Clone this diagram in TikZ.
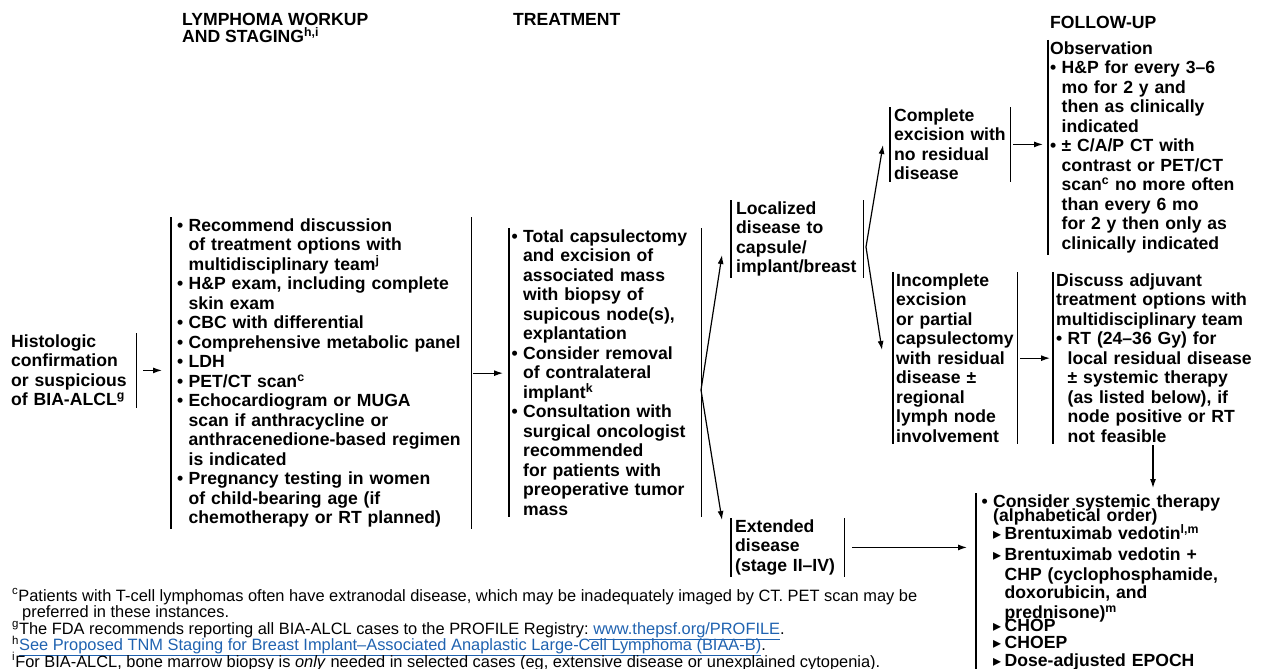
\documentclass[tikz,border=0pt]{standalone}
\usepackage{fontspec}
\setmainfont{Liberation Sans}
\newfontfamily\symfont{DejaVu Sans}
\usepackage{tikz}
\usetikzlibrary{arrows.meta}
\definecolor{linkblue}{RGB}{31,98,176}
\newcommand{\bodyfont}{\fontsize{17.6}{19.5}\selectfont\bfseries\lineskiplimit=-10pt}
\newcommand{\notefont}{\fontsize{16.4}{16.5}\selectfont\lineskiplimit=-10pt}
\newcommand{\bul}{\makebox[11.5pt][l]{•}}
\newcommand{\ind}{\hspace*{11.5pt}}
\newcommand{\tri}{\makebox[11.5pt][l]{\symfont\fontsize{16}{16}\selectfont ▸}}
\tikzstyle{txt} = [anchor=north west, align=left, font=\bodyfont, inner ysep=1.5pt]
\tikzstyle{head} = [anchor=north west, align=left, inner sep=0pt, font=\fontsize{17.6}{17.7}\selectfont\bfseries]
\tikzstyle{bar} = [draw, line width=1.2pt]
\tikzstyle{line} = [draw, line width=1.2pt, -{Latex[length=9pt,width=6pt]}]

\begin{document}
\begin{tikzpicture}[x=1pt,y=-1pt]
    \useasboundingbox (0,0) rectangle (1261,669);

    % headings
    \node[head] (hwork) at (182,12.7) {LYMPHOMA WORKUP\\AND STAGING\textsuperscript{h,i}};
    \node[head] (htreat) at (513,12.7) {TREATMENT};
    \node[head] (hfollow) at (1050,16.2) {FOLLOW-UP};

    \node[txt, inner xsep=3pt, text width=122pt] (hist) at (8,333)
        {Histologic\\confirmation\\or suspicious\\of BIA-ALCL\textsuperscript{g}};

    \node[txt, inner xsep=6pt, text width=288pt] (wk) at (171,217)
        {\bul Recommend discussion\\
         \ind of treatment options with\\
         \ind multidisciplinary team\textsuperscript{j}\\
         \bul H\&P exam, including complete\\
         \ind skin exam\\
         \bul CBC with differential\\
         \bul Comprehensive metabolic panel\\
         \bul LDH\\
         \bul PET/CT scan\textsuperscript{c}\\
         \bul Echocardiogram or MUGA\\
         \ind scan if anthracycline or\\
         \ind anthracenedione-based regimen\\
         \ind is indicated\\
         \bul Pregnancy testing in women\\
         \ind of child-bearing age (if\\
         \ind chemotherapy or RT planned)};

    \node[txt, inner xsep=2.5pt, text width=187pt] (tr) at (509,228)
        {\bul Total capsulectomy\\
         \ind and excision of\\
         \ind associated mass\\
         \ind with biopsy of\\
         \ind supicous node(s),\\
         \ind explantation\\
         \bul Consider removal\\
         \ind of contralateral\\
         \ind implant\textsuperscript{k}\\
         \bul Consultation with\\
         \ind surgical oncologist\\
         \ind recommended\\
         \ind for patients with\\
         \ind preoperative tumor\\
         \ind mass};

    \node[txt, inner xsep=5pt, text width=122pt] (loc) at (731,200)
        {Localized\\disease to\\capsule/\\implant/breast};
    \node[txt, inner xsep=4pt, text width=105pt] (ext) at (731,518)
        {Extended\\disease\\(stage II–IV)};

    \node[txt, inner xsep=4pt, text width=112pt] (comp) at (890,107)
        {Complete\\excision with\\no residual\\disease};
    \node[txt, inner xsep=3pt, text width=117.7pt] (inc) at (893,272)
        {Incomplete\\excision\\or partial\\capsulectomy\\with residual\\disease ±\\regional\\lymph node\\involvement};

    \node[txt, inner xsep=2pt, text width=205pt] (obs) at (1048,40)
        {Observation\\
         \bul H\&P for every 3–6\\
         \ind mo for 2 y and\\
         \ind then as clinically\\
         \ind indicated\\
         \bul ± C/A/P CT with\\
         \ind contrast or PET/CT\\
         \ind scan\textsuperscript{c} no more often\\
         \ind than every 6 mo\\
         \ind for 2 y then only as\\
         \ind clinically indicated};
    \node[txt, inner xsep=3pt, text width=215pt] (adj) at (1053,272)
        {Discuss adjuvant\\
         treatment options with\\
         multidisciplinary team\\
         \bul RT (24–36 Gy) for\\
         \ind local residual disease\\
         \ind ± systemic therapy\\
         \ind (as listed below), if\\
         \ind node positive or RT\\
         \ind not feasible};
    \node[txt, inner xsep=5.5pt, text width=270pt] (sys) at (976,493)
        {\bul Consider systemic therapy\\[-5.5pt]
         \ind (alphabetical order)\\[-1pt]
         \ind\tri Brentuximab vedotin\textsuperscript{l,m}\\[1pt]
         \ind\tri Brentuximab vedotin +\\[0.5pt]
         \ind\ind CHP (cyclophosphamide,\\[-1pt]
         \ind\ind doxorubicin, and\\
         \ind\ind prednisone)\textsuperscript{m}\\[-6pt]
         \ind\tri CHOP\\[-3pt]
         \ind\tri CHOEP\\[-1pt]
         \ind\tri Dose-adjusted EPOCH};

    % bars
    \draw[bar] (hist.north east) -- (hist.south east);
    \draw[bar] (wk.north west) -- (wk.south west);
    \draw[bar] (wk.north east) -- (wk.south east);
    \draw[bar] (tr.north west) -- (tr.south west);
    \draw[bar] (tr.north east) -- (tr.south east);
    \draw[bar] (loc.north west) -- (loc.south west);
    \draw[bar] (loc.north east) -- (loc.south east);
    \draw[bar] (ext.north west) -- (ext.south west);
    \draw[bar] (ext.north east) -- (ext.south east);
    \draw[bar] (comp.north west) -- (comp.south west);
    \draw[bar] (comp.north east) -- (comp.south east);
    \draw[bar] (inc.north west) -- (inc.south west);
    \draw[bar] (inc.north east) -- (inc.south east);
    \draw[bar] (obs.north west) -- (obs.south west);
    \draw[bar] (adj.north west) -- (adj.south west);
    \draw[bar] (sys.north west) -- (sys.south west);

    % arrows
    \draw[line, shorten <=7pt, shorten >=9pt] (hist.east) -- (hist.east -| wk.west);
    \draw[line, shorten <=2pt, shorten >=6pt] (wk.east) -- (wk.east -| tr.west);

    \coordinate (trfork) at (701,390);
    \coordinate (locin) at (722,255);
    \coordinate (extin) at (722,520);
    \draw[line] (trfork) -- (locin);
    \draw[line] (trfork) -- (extin);

    \coordinate (locfork) at (866,247);
    \coordinate (compin) at (883,145);
    \coordinate (incin) at (882,350);
    \draw[line] (locfork) -- (compin);
    \draw[line] (locfork) -- (incin);

    \draw[line, shorten <=3pt, shorten >=5pt] (comp.east) -- (comp.east -| obs.west);
    \draw[line, shorten <=3pt, shorten >=3pt] (inc.east) -- (inc.east -| adj.west);
    \coordinate (adjout) at (1153,445);
    \draw[line, shorten >=5pt] (adjout) -- (adjout |- sys.north);
    \draw[line, shorten <=8pt, shorten >=9pt] (ext.east) -- (ext.east -| sys.west);

    % footnotes
    \node[anchor=north west, align=left, inner sep=0pt, font=\notefont] (notes) at (12,588.6)
        {\textsuperscript{c}Patients with T-cell lymphomas often have extranodal disease, which may be inadequately imaged by CT. PET scan may be\\
         \hspace*{10pt}preferred in these instances.\\
         \textsuperscript{g}The FDA recommends reporting all BIA-ALCL cases to the PROFILE Registry:{\color{linkblue}\underline{\ www.thepsf.org/PROFILE}}.\\
         \textsuperscript{h}{\color{linkblue}\underline{See Proposed TNM Staging for Breast Implant–Associated Anaplastic Large-Cell Lymphoma (BIAA-B)}}.\\
         \textsuperscript{i}For BIA-ALCL, bone marrow biopsy is \textit{only} needed in selected cases (eg, extensive disease or unexplained cytopenia).};

\end{tikzpicture}
\end{document}
